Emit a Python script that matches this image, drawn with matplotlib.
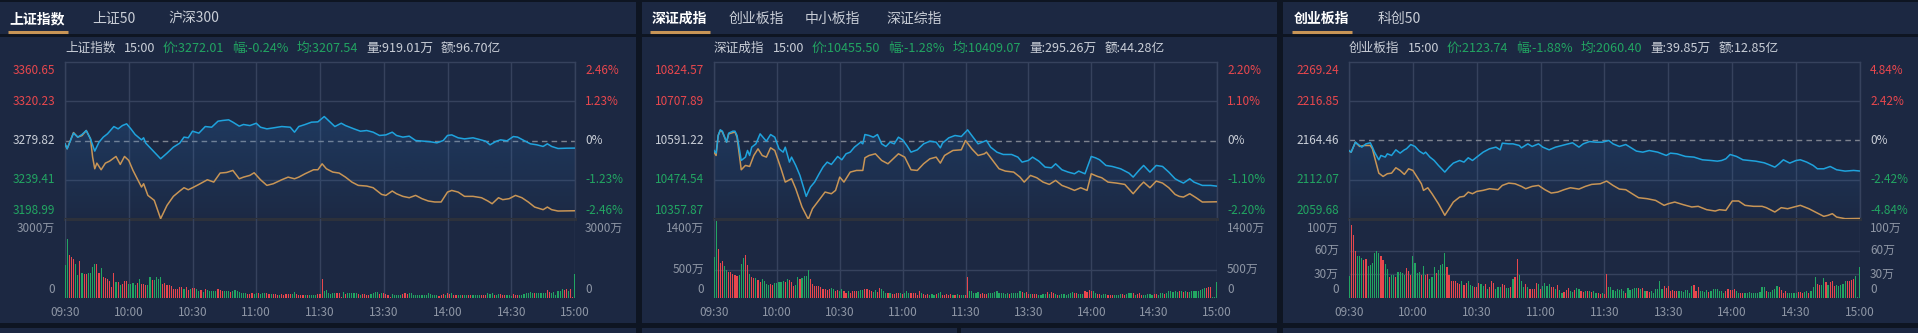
import matplotlib
matplotlib.use("Agg")
import matplotlib.pyplot as plt
import matplotlib.transforms as mtransforms
import numpy as np
from matplotlib.colors import to_rgb
from matplotlib.patches import Polygon, Rectangle

plt.rcParams["font.family"] = ["Noto Sans CJK SC", "DejaVu Sans"]

# ---------------- data ----------------
# minute index 0..240 (09:30 -> 15:00, lunch break collapsed)
time_labels = ["09:30", "10:00", "10:30", "11:00", "11:30", "13:30", "14:00", "14:30", "15:00"]

# 上证指数
sh_t = [0, 1, 4, 6, 8, 10, 12, 14, 16, 18, 20, 23, 25, 27, 29, 31, 33, 36, 37, 38, 41, 45, 48, 51,
        54, 56, 58, 60, 63, 66, 69, 72, 74, 77, 79, 82, 84, 87, 90, 92, 95, 98, 102, 106, 108, 110,
        113, 116, 119, 122, 124, 127, 130, 132, 136, 139, 142, 145, 148, 151, 154, 156, 159, 162,
        165, 169, 172, 175, 178, 180, 182, 185, 188, 192, 195, 198, 200, 203, 205, 208, 211, 213,
        216, 219, 222, 225, 227, 229, 232, 236, 240]
sh_price = [3276.4, 3271.3, 3287.4, 3283.3, 3286.0, 3290.1, 3281.5, 3268.9, 3278.1, 3283.3, 3286.7,
            3294.2, 3291.8, 3295.2, 3297.0, 3291.8, 3286.0, 3280.5, 3282.6, 3277.1, 3270.2, 3261.0,
            3266.8, 3273.0, 3277.1, 3283.3, 3282.6, 3289.4, 3287.4, 3294.2, 3293.5, 3299.7, 3300.4,
            3301.1, 3298.7, 3294.6, 3296.3, 3295.2, 3297.6, 3293.5, 3291.8, 3292.8, 3294.2, 3293.5,
            3288.4, 3294.2, 3296.3, 3298.7, 3299.0, 3304.5, 3300.4, 3294.2, 3297.6, 3295.2, 3291.8,
            3289.4, 3290.1, 3288.4, 3285.0, 3285.6, 3288.4, 3285.0, 3283.3, 3284.3, 3279.8, 3279.1,
            3278.5, 3277.4, 3279.8, 3285.0, 3285.6, 3282.6, 3281.5, 3282.6, 3280.9, 3279.1, 3275.4,
            3279.1, 3280.5, 3279.5, 3283.9, 3283.3, 3279.8, 3276.4, 3275.4, 3273.7, 3276.4, 3273.7,
            3271.6, 3271.9, 3272.0]
sh_avg_t = [0, 1, 4, 6, 8, 10, 12, 13, 14, 15, 17, 19, 21, 24, 26, 28, 30, 32, 34, 36, 37, 39, 42,
            45, 48, 51, 54, 56, 58, 60, 63, 67, 70, 73, 76, 79, 82, 84, 87, 89, 92, 95, 98, 102, 105,
            108, 110, 113, 117, 119, 121, 123, 126, 129, 132, 135, 138, 142, 145, 149, 151, 154, 156,
            159, 162, 165, 168, 171, 174, 177, 180, 182, 185, 188, 192, 196, 199, 201, 204, 206, 209,
            212, 215, 218, 221, 225, 227, 229, 232, 240]
sh_avg = [3276.4, 3271.3, 3288.0, 3283.3, 3284.9, 3290.1, 3281.5, 3262.7, 3250.7, 3256.5, 3249.7,
          3256.5, 3258.6, 3263.4, 3255.2, 3263.4, 3259.3, 3249.0, 3240.4, 3231.9, 3235.3, 3223.3,
          3218.2, 3199.3, 3213.0, 3222.3, 3227.8, 3231.2, 3229.1, 3231.2, 3234.6, 3239.4, 3237.0,
          3246.3, 3246.9, 3249.0, 3240.4, 3242.1, 3243.9, 3246.6, 3239.4, 3233.6, 3235.3, 3239.4,
          3242.1, 3240.4, 3242.1, 3245.6, 3249.7, 3249.7, 3255.8, 3250.7, 3247.3, 3246.3, 3242.1,
          3237.0, 3233.6, 3232.9, 3231.2, 3224.3, 3223.3, 3227.8, 3225.0, 3222.3, 3220.9, 3223.3,
          3219.9, 3217.5, 3216.5, 3216.5, 3226.7, 3228.4, 3226.7, 3222.3, 3222.3, 3220.9, 3217.5,
          3214.7, 3220.9, 3218.9, 3219.9, 3223.3, 3220.9, 3216.5, 3211.3, 3208.6, 3211.3, 3208.6,
          3207.2, 3207.5]
sh_vol = [1241, 2253, 1620, 1570, 1494, 1304, 861, 1393, 962, 899,
          899, 937, 937, 1165, 1304, 1279, 937, 1127, 798, 772,
          709, 658, 405, 962, 608, 595, 481, 519, 633, 633,
          519, 544, 557, 481, 582, 734, 544, 544, 481, 506,
          785, 696, 671, 785, 709, 810, 544, 582, 481, 506,
          456, 354, 354, 354, 405, 418, 354, 418, 317, 354,
          380, 380, 329, 279, 304, 228, 329, 291, 266, 253,
          253, 253, 329, 304, 279, 253, 279, 279, 228, 279,
          304, 253, 228, 190, 177, 177, 165, 165, 190, 152,
          190, 177, 165, 203, 177, 177, 165, 152, 165, 165,
          127, 127, 139, 127, 139, 139, 152, 165, 215, 139,
          127, 127, 114, 127, 114, 127, 127, 114, 127, 139,
          152, 734, 253, 291, 203, 152, 203, 190, 177, 177,
          38, 228, 152, 203, 190, 177, 203, 203, 165, 127,
          152, 139, 127, 127, 165, 203, 228, 228, 152, 177,
          177, 152, 101, 38, 152, 101, 127, 127, 127, 152,
          177, 152, 203, 177, 101, 127, 101, 127, 101, 101,
          127, 203, 152, 127, 101, 127, 89, 127, 152, 101,
          177, 152, 203, 127, 127, 127, 101, 127, 127, 101,
          101, 127, 101, 127, 101, 101, 127, 127, 127, 177,
          152, 177, 127, 101, 152, 152, 101, 127, 101, 127,
          76, 152, 127, 127, 101, 127, 152, 177, 203, 228,
          203, 203, 177, 203, 177, 203, 203, 304, 228, 203,
          228, 127, 253, 279, 329, 304, 329, 253, 342, 25,
          899]
sh_dir = "".join(["ggrrrggrgr", "rggggrrgrr", "rrrrgrgrrr", "ggggrgrrrg", "grggggrrrr",
                  "rrrrrrgrrg", "rrggrgrggg", "ggrrrgggrg", "ggggggrrrg", "grgggrrgrr",
                  "rgrrrrrggr", "rrrgrggggr", "rrggggggrr", "rgrgggggrg", "rrrrggggrg",
                  "rrrrgggggr", "rrgggggggg", "ggggggrrrg", "rrgrrggrgg", "rrggggrrrg",
                  "ggrggrrrgg", "grrrgggggg", "grgggggrrg", "gggggrrgrr", "g"])

# 深证成指
sz_t = [0, 1, 2, 3, 4, 6, 7, 9, 10, 11, 13, 15, 16, 17, 18, 20, 22, 24, 25, 27, 29, 31, 33, 34, 36,
        37, 39, 41, 44, 46, 48, 50, 52, 54, 56, 59, 61, 63, 65, 67, 70, 71, 72, 74, 76, 78, 80, 82,
        84, 86, 88, 90, 92, 94, 97, 100, 103, 106, 108, 109, 112, 115, 118, 121, 123, 126, 128,
        130, 132, 135, 138, 142, 145, 147, 150, 152, 155, 158, 161, 163, 166, 169, 172, 174, 177,
        180, 182, 184, 187, 190, 194, 198, 200, 203, 205, 208, 211, 214, 217, 220, 222, 224, 227,
        229, 233, 237, 240]
sz_price = [10561.6, 10553.6, 10606.1, 10622.9, 10618.9, 10586.3, 10613.0, 10618.9, 10618.9,
            10606.1, 10531.9, 10541.8, 10561.6, 10546.7, 10571.4, 10581.3, 10611.0, 10596.2,
            10589.2, 10609.0, 10601.1, 10566.5, 10556.6, 10571.4, 10527.0, 10541.8, 10517.1,
            10487.4, 10425.1, 10452.8, 10467.6, 10490.4, 10512.1, 10527.0, 10520.0, 10543.8,
            10533.9, 10551.7, 10556.6, 10571.4, 10586.3, 10581.3, 10609.0, 10606.1, 10601.1,
            10609.0, 10581.3, 10573.4, 10586.3, 10581.3, 10601.1, 10593.2, 10576.4, 10556.6,
            10563.5, 10581.3, 10589.2, 10586.3, 10569.5, 10583.3, 10599.1, 10606.1, 10603.1,
            10622.9, 10606.1, 10581.3, 10586.3, 10591.2, 10571.4, 10556.6, 10549.7, 10549.7,
            10541.8, 10527.0, 10531.9, 10541.8, 10529.9, 10512.1, 10510.1, 10522.0, 10504.2,
            10497.3, 10492.3, 10500.3, 10492.3, 10543.8, 10539.8, 10533.9, 10517.1, 10514.1,
            10507.2, 10494.3, 10482.5, 10504.2, 10517.1, 10497.3, 10517.1, 10514.1, 10497.3,
            10477.5, 10470.6, 10464.7, 10477.5, 10467.6, 10457.7, 10457.7, 10455.5]
sz_avg_t = [0, 1, 2, 3, 4, 6, 7, 10, 11, 13, 15, 17, 19, 21, 23, 25, 27, 29, 32, 34, 37, 39, 42,
            45, 47, 50, 53, 56, 58, 60, 62, 65, 68, 71, 72, 74, 77, 80, 83, 85, 88, 91, 94, 97,
            100, 103, 106, 108, 110, 114, 118, 120, 123, 126, 129, 130, 133, 136, 139, 143, 146,
            148, 151, 154, 157, 160, 163, 166, 169, 172, 175, 178, 180, 183, 185, 188, 192, 196,
            200, 203, 205, 208, 211, 214, 217, 220, 222, 224, 227, 230, 233, 240]
sz_avg = [10556.6, 10546.7, 10606.1, 10621.6, 10616.5, 10586.3, 10611.0, 10616.5, 10601.1,
          10504.2, 10517.1, 10514.1, 10546.7, 10566.5, 10546.7, 10541.8, 10569.5, 10561.6,
          10507.2, 10467.6, 10477.5, 10447.8, 10393.5, 10356.9, 10388.5, 10413.2, 10438.0,
          10433.0, 10442.9, 10482.5, 10467.6, 10497.3, 10502.2, 10502.2, 10539.8, 10546.7,
          10551.7, 10531.9, 10522.0, 10533.9, 10551.7, 10541.8, 10504.2, 10502.2, 10522.0,
          10536.8, 10541.8, 10524.0, 10546.7, 10561.6, 10563.5, 10591.2, 10566.5, 10546.7,
          10551.7, 10556.6, 10531.9, 10507.2, 10500.3, 10497.3, 10482.5, 10467.6, 10487.4,
          10480.5, 10467.6, 10460.7, 10472.6, 10457.7, 10450.8, 10442.9, 10450.8, 10442.9,
          10492.3, 10484.4, 10480.5, 10467.6, 10464.7, 10460.7, 10433.0, 10454.8, 10467.6,
          10450.8, 10470.6, 10464.7, 10450.8, 10431.0, 10425.1, 10423.1, 10433.0, 10421.2,
          10408.3, 10409.1]
sz_vol = [725, 1369, 870, 626, 650, 568, 499, 452, 464, 423,
          412, 394, 412, 597, 713, 754, 586, 423, 365, 348,
          360, 325, 290, 336, 302, 255, 238, 255, 238, 267,
          267, 290, 278, 302, 290, 336, 313, 278, 209, 232,
          371, 336, 348, 394, 383, 493, 336, 249, 220, 209,
          220, 197, 162, 162, 139, 151, 186, 151, 116, 139,
          128, 162, 128, 93, 122, 81, 116, 128, 128, 128,
          133, 133, 168, 151, 139, 128, 104, 133, 104, 174,
          151, 116, 93, 81, 81, 75, 70, 81, 93, 93,
          70, 81, 116, 93, 81, 81, 81, 58, 116, 81,
          70, 58, 70, 58, 64, 58, 70, 93, 104, 58,
          58, 70, 58, 70, 58, 58, 70, 58, 46, 58,
          46, 365, 128, 116, 93, 93, 104, 70, 81, 70,
          64, 81, 81, 81, 104, 122, 93, 81, 81, 70,
          81, 70, 81, 93, 93, 93, 128, 104, 93, 104,
          70, 70, 70, 70, 70, 58, 58, 70, 70, 104,
          70, 104, 81, 70, 58, 58, 70, 70, 58, 70,
          81, 104, 93, 81, 70, 70, 70, 128, 104, 133,
          122, 116, 81, 70, 70, 58, 70, 70, 58, 58,
          58, 46, 58, 58, 70, 70, 58, 70, 93, 93,
          93, 58, 70, 81, 58, 58, 46, 70, 70, 58,
          70, 70, 58, 81, 81, 70, 81, 116, 128, 110,
          116, 104, 128, 116, 104, 128, 104, 104, 116, 116,
          116, 128, 139, 151, 174, 186, 197, 203, 10, 12,
          290]
sz_dir = "".join(["ggrrrggrrr", "rrgggrrgrr", "grrggggrrg", "ggggrgrrrg", "grggggrrrr",
                  "rrrrrrggrr", "ggrrgrrrrg", "ggrrrrggrr", "gggrgrrrrg", "rgggrrrrrg",
                  "rrrgggrggr", "rrrrgrgrgg", "rrgggggrrr", "rggggggggg", "grgggggrgr",
                  "rgrrrggggr", "grrgrggggg", "ggrrgggrrr", "rggrrgggrr", "rggggrrggg",
                  "rgrrrggggg", "rrgggrgggg", "ggrgrgrggg", "gggggrrrgg", "g"])

# 创业板指
cy_t = [0, 1, 3, 4, 6, 8, 10, 11, 12, 14, 15, 17, 18, 20, 22, 24, 26, 27, 29, 31, 33, 35, 36, 38,
        40, 42, 45, 47, 49, 52, 54, 56, 58, 60, 63, 66, 69, 71, 72, 75, 77, 80, 81, 84, 86, 89, 91,
        94, 97, 100, 103, 105, 108, 110, 113, 116, 119, 122, 124, 127, 130, 132, 135, 138, 141,
        145, 149, 151, 154, 158, 162, 166, 170, 173, 175, 177, 179, 182, 185, 188, 191, 195, 197,
        200, 202, 204, 207, 210, 212, 215, 218, 220, 223, 226, 229, 233, 237, 240]
cy_price = [2151.1, 2148.9, 2162.2, 2160.0, 2155.6, 2160.0, 2161.4, 2155.6, 2148.9, 2138.7, 2144.5,
            2142.3, 2146.7, 2144.5, 2152.0, 2147.6, 2152.0, 2153.4, 2159.1, 2156.5, 2150.3, 2146.7,
            2148.9, 2142.3, 2137.8, 2131.2, 2122.3, 2128.9, 2134.3, 2137.8, 2135.6, 2141.4, 2137.8,
            2142.3, 2148.9, 2153.4, 2155.6, 2152.0, 2160.9, 2160.0, 2160.0, 2157.8, 2154.7, 2160.0,
            2156.5, 2160.0, 2155.6, 2152.0, 2155.6, 2157.8, 2160.0, 2161.4, 2155.6, 2160.0, 2163.1,
            2162.2, 2162.2, 2164.5, 2160.0, 2156.5, 2159.1, 2155.6, 2150.3, 2148.9, 2151.1, 2148.9,
            2144.5, 2147.6, 2146.7, 2143.2, 2142.3, 2138.7, 2137.8, 2136.9, 2137.8, 2140.0, 2145.8,
            2143.2, 2138.7, 2137.8, 2136.9, 2134.7, 2132.5, 2128.9, 2133.4, 2138.7, 2134.3, 2137.8,
            2138.7, 2135.6, 2131.2, 2126.7, 2126.7, 2129.8, 2125.4, 2123.6, 2124.5, 2123.7]
cy_avg_t = [0, 1, 3, 5, 7, 10, 11, 12, 14, 16, 18, 20, 22, 24, 26, 28, 30, 32, 34, 35, 37, 39, 42,
            45, 47, 49, 52, 54, 56, 58, 60, 63, 66, 70, 72, 75, 78, 81, 83, 86, 89, 92, 95, 98, 101,
            104, 108, 111, 114, 118, 121, 124, 127, 130, 133, 136, 140, 144, 148, 150, 153, 157,
            161, 164, 168, 172, 174, 177, 180, 183, 186, 190, 194, 196, 200, 203, 206, 209, 212,
            216, 219, 223, 225, 227, 229, 233, 240]
cy_avg = [2150.3, 2148.9, 2162.2, 2156.5, 2157.8, 2157.8, 2153.4, 2142.3, 2120.9, 2116.5, 2120.1,
          2120.9, 2128.1, 2124.5, 2119.2, 2126.7, 2124.5, 2115.6, 2106.7, 2097.9, 2101.4, 2093.4,
          2080.1, 2064.6, 2073.4, 2082.3, 2089.0, 2089.9, 2095.6, 2093.4, 2096.5, 2097.9, 2100.1,
          2098.8, 2104.5, 2107.6, 2106.7, 2103.2, 2100.1, 2103.2, 2104.5, 2098.8, 2094.3, 2095.6,
          2098.8, 2101.4, 2099.6, 2103.2, 2105.9, 2106.7, 2110.3, 2104.5, 2099.6, 2098.8, 2093.4,
          2088.1, 2086.8, 2084.5, 2077.9, 2080.1, 2082.3, 2078.8, 2075.7, 2076.6, 2072.1, 2070.3,
          2072.1, 2071.2, 2083.7, 2083.7, 2077.9, 2076.6, 2076.6, 2074.8, 2069.0, 2074.8, 2073.4,
          2075.7, 2077.9, 2073.4, 2069.0, 2063.2, 2064.6, 2066.8, 2062.3, 2060.1, 2060.4]
cy_vol = [27.3, 92.4, 79.8, 60.1, 52.9, 52.9, 50.8, 47.5, 49.6, 40.3,
          41.2, 44.5, 57.5, 60.1, 57.1, 52.9, 48.7, 43.3, 37.0, 26.0,
          28.6, 29.4, 26.9, 33.2, 32.8, 31.9, 28.6, 37.8, 33.6, 29.4,
          52.9, 43.7, 31.1, 32.8, 29.4, 39.9, 29.4, 30.2, 23.5, 26.5,
          39.1, 31.9, 34.9, 41.2, 42.8, 57.1, 39.5, 29.4, 21.4, 21.4,
          21.0, 18.5, 17.6, 21.0, 16.0, 19.3, 21.4, 16.0, 15.5, 13.9,
          13.9, 19.3, 18.1, 15.1, 18.1, 10.9, 13.4, 21.0, 18.5, 10.9,
          13.9, 13.9, 18.1, 16.0, 12.6, 12.6, 14.3, 23.5, 26.5, 50.0,
          28.6, 21.8, 14.3, 18.1, 13.9, 10.9, 10.9, 11.8, 18.9, 17.2,
          11.8, 15.1, 19.3, 15.1, 18.1, 13.4, 14.3, 10.9, 16.8, 9.7,
          6.7, 7.6, 9.7, 12.6, 8.4, 7.6, 9.7, 13.0, 11.8, 8.4,
          7.6, 8.4, 8.4, 8.4, 7.6, 8.4, 6.7, 6.7, 5.5, 5.9,
          5.0, 29.8, 13.4, 13.4, 9.7, 9.2, 10.9, 9.7, 10.9, 8.4,
          6.7, 12.6, 9.7, 11.8, 12.6, 12.6, 12.6, 10.9, 12.6, 8.4,
          8.4, 7.6, 8.4, 6.7, 10.9, 11.8, 21.8, 10.9, 15.1, 12.6,
          15.1, 9.2, 9.7, 8.4, 8.4, 9.2, 8.4, 7.6, 10.1, 9.7,
          6.7, 15.1, 16.0, 9.2, 13.9, 9.2, 8.4, 7.6, 10.1, 7.6,
          8.4, 10.9, 10.9, 10.9, 8.4, 8.4, 6.7, 9.2, 10.9, 9.7,
          9.7, 10.9, 8.4, 5.9, 5.9, 6.7, 6.7, 6.7, 7.6, 6.7,
          5.9, 6.7, 6.7, 7.6, 13.4, 13.4, 8.4, 7.6, 7.6, 10.1,
          11.8, 15.1, 14.3, 10.1, 6.7, 9.2, 6.7, 5.9, 5.9, 5.9,
          5.9, 7.6, 7.6, 6.7, 7.6, 8.4, 6.7, 9.2, 13.9, 26.0,
          17.2, 16.0, 16.0, 24.8, 20.2, 16.0, 20.2, 21.0, 15.1, 16.0,
          15.1, 16.8, 18.1, 21.0, 21.8, 21.8, 22.7, 23.5, 27.3, 0.8,
          39.1]
cy_dir = "".join(["grrrgggrrg", "gggggrrggr", "ggrggggrrr", "ggggrgrrgg", "grggggrrrr",
                  "rrrgrrgggr", "rrggrgrrrg", "ggrrggrgrr", "gggrgrrrrg", "rggggrrgrg",
                  "grrrggrggr", "rgrgrggrrg", "rrgggggggg", "rgggggrgrg", "rrggggggrr",
                  "rrrrrggggg", "ggrrrggggr", "gggggggrrr", "rrggrrgggg", "ggggggrggg",
                  "ggrrrrgggg", "grrrggrggg", "rrggrgrrrg", "ggggrrrrgg", "g"])

# ---------------- style ----------------
W, H = 1918, 333
FIG_BG = "#0e1522"
PANEL_BG = "#1c2842"
GRID = "#36425d"
SEP = "#2d313b"
RED = "#e8474d"
GREEN = "#22a562"
BLUE = "#1fa3dd"
TAN = "#c89556"
LIGHT = "#c9ced7"
DIM = "#8e96a5"

panels = [
    dict(x0=0, x1=636, L=65, R=575,
         tabs=[("上证指数", 37), ("上证50", 114), ("沪深300", 194)], ul=(8, 68),
         info=[("上证指数", LIGHT), ("15:00", LIGHT), ("价:3272.01", GREEN), ("幅:-0.24%", GREEN),
               ("均:3207.54", GREEN), ("量:919.01万", LIGHT), ("额:96.70亿", LIGHT)],
         ticks=["3360.65", "3320.23", "3279.82", "3239.41", "3198.99"],
         pcts=["2.46%", "1.23%", "0%", "-1.23%", "-2.46%"],
         vticks=[0, 3000], vlabels=["0", "3000万"],
         t=sh_t, p=sh_price, at=sh_avg_t, a=sh_avg, vol=sh_vol, dirs=sh_dir),
    dict(x0=642, x1=1277, L=714, R=1217,
         tabs=[("深证成指", 679), ("创业板指", 756), ("中小板指", 832), ("深证综指", 914)], ul=(650, 710),
         info=[("深证成指", LIGHT), ("15:00", LIGHT), ("价:10455.50", GREEN), ("幅:-1.28%", GREEN),
               ("均:10409.07", GREEN), ("量:295.26万", LIGHT), ("额:44.28亿", LIGHT)],
         ticks=["10824.57", "10707.89", "10591.22", "10474.54", "10357.87"],
         pcts=["2.20%", "1.10%", "0%", "-1.10%", "-2.20%"],
         vticks=[0, 500, 1400], vlabels=["0", "500万", "1400万"],
         t=sz_t, p=sz_price, at=sz_avg_t, a=sz_avg, vol=sz_vol, dirs=sz_dir),
    dict(x0=1283, x1=1918, L=1349, R=1860,
         tabs=[("创业板指", 1322), ("科创50", 1399)], ul=(1292, 1352),
         info=[("创业板指", LIGHT), ("15:00", LIGHT), ("价:2123.74", GREEN), ("幅:-1.88%", GREEN),
               ("均:2060.40", GREEN), ("量:39.85万", LIGHT), ("额:12.85亿", LIGHT)],
         ticks=["2269.24", "2216.85", "2164.46", "2112.07", "2059.68"],
         pcts=["4.84%", "2.42%", "0%", "-2.42%", "-4.84%"],
         vticks=[0, 30, 60, 100], vlabels=["0", "30万", "60万", "100万"],
         t=cy_t, p=cy_price, at=cy_avg_t, a=cy_avg, vol=cy_vol, dirs=cy_dir),
]

P_TOP, P_BOT, V_BOT = 62, 219, 298

fig = plt.figure(figsize=(W / 100, H / 100), dpi=100)
fig.patch.set_facecolor(FIG_BG)
bg = fig.add_axes([0, 0, 1, 1])
bg.set_xlim(0, W)
bg.set_ylim(H, 0)
bg.axis("off")
renderer = fig.canvas.get_renderer()


def rect(x0, x1, ytop, ybot):
    return [x0 / W, 1 - ybot / H, (x1 - x0) / W, (ybot - ytop) / H]


label_colors = [RED, RED, LIGHT, GREEN, GREEN]

for pn in panels:
    # panel frames
    bg.add_patch(Rectangle((pn["x0"], 1.5), pn["x1"] - pn["x0"], 32, color=PANEL_BG, lw=0))
    bg.add_patch(Rectangle((pn["x0"], 36.5), pn["x1"] - pn["x0"], 286, color=PANEL_BG, lw=0))

    # tabs
    for i, (name, cx) in enumerate(pn["tabs"]):
        bg.text(cx, 19, name, ha="center", va="center", fontsize=10,
                color="white" if i == 0 else LIGHT, fontweight="bold" if i == 0 else "normal")
    bg.plot(pn["ul"], [32, 32], color=TAN, lw=2.2, solid_capstyle="butt")

    # info line
    x = pn["L"]
    for s, c in pn["info"]:
        txt = bg.text(x, 48.5, s, ha="left", va="center", fontsize=9.1, color=c)
        x = txt.get_window_extent(renderer).x1 + 8

    # price chart
    hi, lo = float(pn["ticks"][0]), float(pn["ticks"][-1])
    ax = fig.add_axes(rect(pn["L"], pn["R"], P_TOP, P_BOT))
    ax.set_facecolor("none")
    verts = [(pn["t"][0], lo)] + list(zip(pn["t"], pn["p"])) + [(pn["t"][-1], lo)]
    poly = Polygon(verts, closed=True, facecolor="none", edgecolor="none")
    ax.add_patch(poly)
    grad = np.zeros((100, 1, 4))
    grad[:, :, :3] = to_rgb("#2a78c8")
    grad[:, 0, 3] = np.linspace(0.32, 0.02, 100)
    im = ax.imshow(grad, aspect="auto", extent=(0, 240, lo, hi), origin="upper", zorder=1)
    im.set_clip_path(poly)
    for k in range(0, 241, 30):
        ax.axvline(k, color=GRID, lw=1, zorder=0.5)
    for tk in pn["ticks"][1:-1]:
        v = float(tk)
        if tk == pn["ticks"][2]:
            ax.axhline(v, color="#7d838f", lw=1, ls=(0, (4, 3)), zorder=0.5)
        else:
            ax.axhline(v, color=GRID, lw=1, zorder=0.5)
    ax.plot(pn["at"], pn["a"], color=TAN, lw=1.1, zorder=3)
    ax.plot(pn["t"], pn["p"], color=BLUE, lw=1.1, zorder=4)
    ax.set_xlim(0, 240)
    ax.set_ylim(lo, hi)
    ax.set_xticks([])
    ax.set_yticks([])
    for sp in ("top", "left", "right"):
        ax.spines[sp].set_color(GRID)
        ax.spines[sp].set_linewidth(1)
    ax.spines["bottom"].set_color(SEP)
    ax.spines["bottom"].set_linewidth(2.2)

    ytr = ax.get_yaxis_transform()
    left_tr = mtransforms.offset_copy(ytr, fig=fig, x=-10, y=0, units="dots")
    right_tr = mtransforms.offset_copy(ytr, fig=fig, x=10, y=0, units="dots")
    for i, (tk, pc) in enumerate(zip(pn["ticks"], pn["pcts"])):
        va = "top" if i == 0 else ("bottom" if i == 4 else "center")
        dy = -2 if i == 0 else (2 if i == 4 else 0)
        lt = mtransforms.offset_copy(left_tr, fig=fig, x=0, y=dy, units="dots")
        rt = mtransforms.offset_copy(right_tr, fig=fig, x=0, y=dy, units="dots")
        ax.text(0, float(tk), tk, transform=lt, ha="right", va=va, fontsize=8.5,
                color=label_colors[i], clip_on=False)
        ax.text(1, float(tk), pc, transform=rt, ha="left", va=va, fontsize=8.5,
                color=label_colors[i], clip_on=False)

    # volume chart
    vx = fig.add_axes(rect(pn["L"], pn["R"], P_BOT, V_BOT))
    vx.set_facecolor("none")
    vmax = pn["vticks"][-1]
    for k in range(0, 241, 30):
        vx.axvline(k, color=GRID, lw=1, zorder=0.5)
    for tk in pn["vticks"][1:-1]:
        vx.axhline(tk, color=GRID, lw=1, zorder=0.5)
    cols = [RED if d == "r" else GREEN for d in pn["dirs"]]
    vx.bar(range(len(pn["vol"])), pn["vol"], width=0.55, color=cols, lw=0, zorder=2)
    vx.set_xlim(0, 240)
    vx.set_ylim(0, vmax)
    vx.set_xticks([])
    vx.set_yticks([])
    for sp in vx.spines.values():
        sp.set_visible(False)
    vtr = vx.get_yaxis_transform()
    for tk, lab in zip(pn["vticks"], pn["vlabels"]):
        va = "top" if tk == vmax else ("bottom" if tk == 0 else "center")
        dy = -3 if tk == vmax else (2 if tk == 0 else 0)
        lt = mtransforms.offset_copy(vtr, fig=fig, x=-10, y=dy, units="dots")
        rt = mtransforms.offset_copy(vtr, fig=fig, x=10, y=dy, units="dots")
        vx.text(0, tk, lab, transform=lt, ha="right", va=va, fontsize=8.5, color=DIM, clip_on=False)
        vx.text(1, tk, lab, transform=rt, ha="left", va=va, fontsize=8.5, color=DIM, clip_on=False)

    # time axis labels
    xtr = mtransforms.offset_copy(vx.get_xaxis_transform(), fig=fig, x=0, y=-14, units="dots")
    for k, lab in enumerate(time_labels):
        vx.text(k * 30, 0, lab, transform=xtr, ha="center", va="center", fontsize=8.5,
                color=DIM, clip_on=False)

# strip of the next row at the bottom edge
for sx0, sx1 in [(0, 636), (642, 957), (961, 1277), (1283, 1918)]:
    bg.add_patch(Rectangle((sx0, 328), sx1 - sx0, 6, color=PANEL_BG, lw=0))

fig.savefig("out.png", dpi=100, facecolor=FIG_BG)
